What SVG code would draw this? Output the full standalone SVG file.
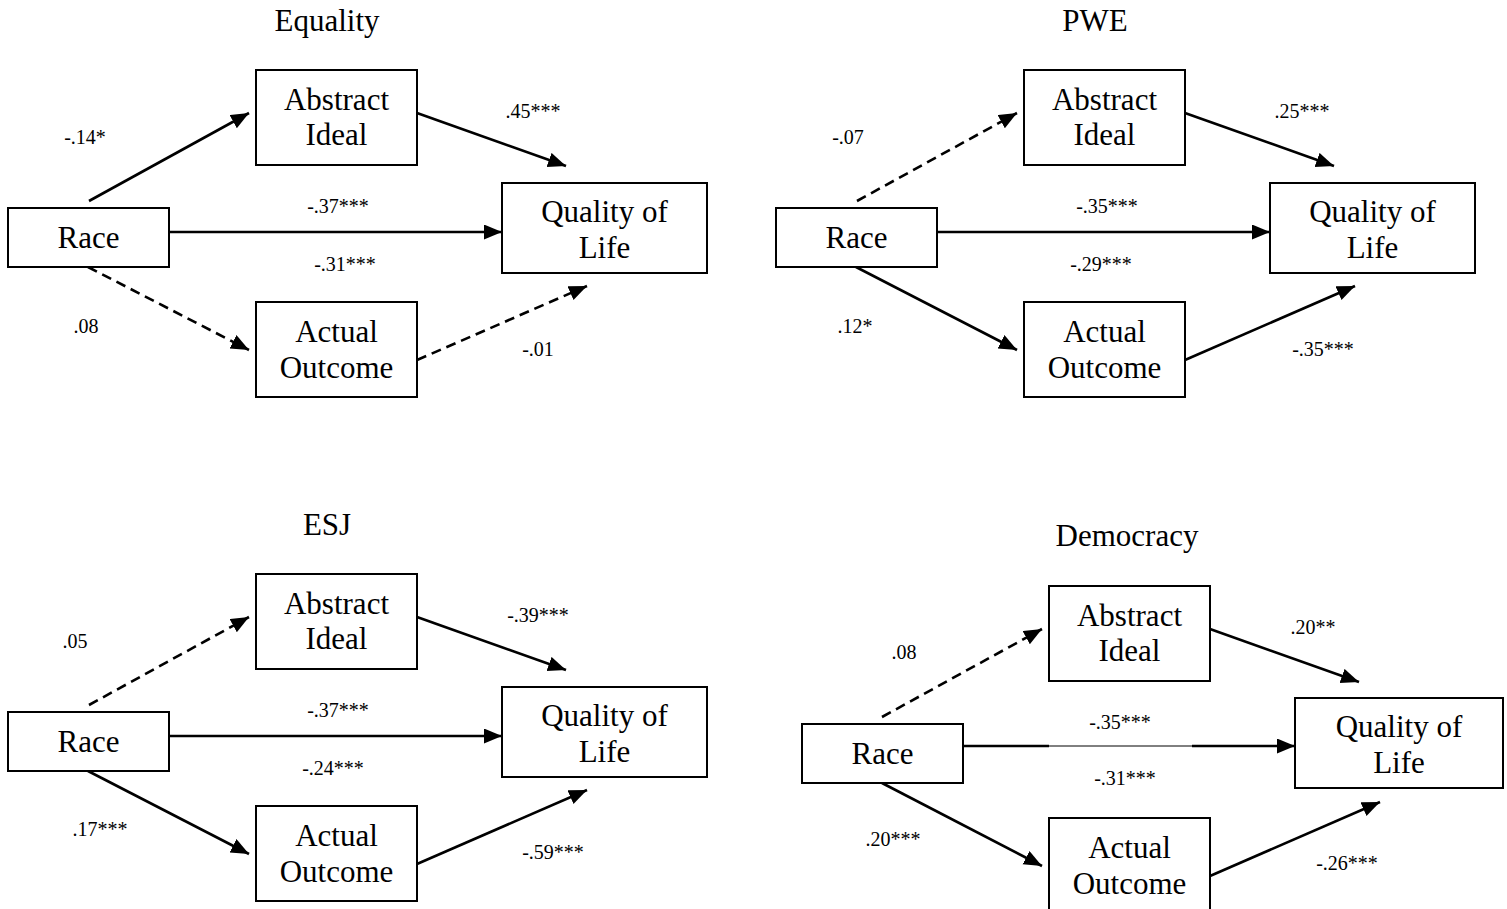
<svg xmlns="http://www.w3.org/2000/svg" width="1507" height="909" viewBox="0 0 1507 909">
<defs>
<marker id="ah" markerUnits="userSpaceOnUse" markerWidth="20" markerHeight="16" refX="18" refY="7.5" orient="auto">
<path d="M0,0 L18,7.5 L0,15 z" fill="#000"/>
</marker>
<style>
.box{fill:#fff;stroke:#000;stroke-width:2}
.bt{font-family:"Liberation Serif","Times New Roman",serif;font-size:31px;text-anchor:middle;fill:#000}
.tt{font-family:"Liberation Serif","Times New Roman",serif;font-size:31px;text-anchor:middle;fill:#000}
.el{font-family:"Liberation Serif","Times New Roman",serif;font-size:20px;text-anchor:middle;fill:#000}
.ln{stroke:#000;stroke-width:2.6;fill:none}
.ar{stroke:#000;stroke-width:2.6;fill:none;marker-end:url(#ah)}
.da{stroke:#000;stroke-width:2.6;fill:none;stroke-dasharray:10 6;marker-end:url(#ah)}
</style>
</defs>
<rect width="1507" height="909" fill="#fff"/>

<g id="titles">
<text class="tt" x="327" y="31">Equality</text>
<text class="tt" x="1095" y="31">PWE</text>
<text class="tt" x="327" y="535">ESJ</text>
<text class="tt" x="1127" y="546">Democracy</text>
</g>

<g id="connectors">
<!-- Equality -->
<line class="ar" x1="89" y1="201" x2="249" y2="113"/>
<line class="ar" x1="417" y1="113" x2="566" y2="166"/>
<line class="ar" x1="169" y1="232" x2="502" y2="232"/>
<line class="da" x1="88" y1="267" x2="249" y2="350"/>
<line class="da" x1="417" y1="360" x2="587" y2="286"/>
<!-- PWE -->
<line class="da" x1="857" y1="201" x2="1017" y2="113"/>
<line class="ar" x1="1185" y1="113" x2="1334" y2="166"/>
<line class="ar" x1="937" y1="232" x2="1270" y2="232"/>
<line class="ar" x1="856" y1="267" x2="1017" y2="350"/>
<line class="ar" x1="1185" y1="360" x2="1355" y2="286"/>
<!-- ESJ -->
<line class="da" x1="89" y1="705" x2="249" y2="617"/>
<line class="ar" x1="417" y1="617" x2="566" y2="670"/>
<line class="ar" x1="169" y1="736" x2="502" y2="736"/>
<line class="ar" x1="88" y1="771" x2="249" y2="854"/>
<line class="ar" x1="417" y1="864" x2="587" y2="790"/>
<!-- Democracy -->
<line class="da" x1="882" y1="717" x2="1042" y2="629"/>
<line class="ar" x1="1210" y1="629" x2="1359" y2="682"/>
<line class="ln" x1="963" y1="746" x2="1049" y2="746"/>
<line stroke="#000" stroke-width="1" x1="1049" y1="746" x2="1192" y2="746"/>
<line class="ar" x1="1192" y1="746" x2="1295" y2="746"/>
<line class="ar" x1="882" y1="783" x2="1042" y2="866"/>
<line class="ar" x1="1210" y1="876" x2="1380" y2="802"/>
</g>

<g id="labels">
<text class="el" x="85" y="144">-.14*</text>
<text class="el" x="533" y="118">.45***</text>
<text class="el" x="338" y="213">-.37***</text>
<text class="el" x="345" y="271">-.31***</text>
<text class="el" x="86" y="333">.08</text>
<text class="el" x="538" y="356">-.01</text>

<text class="el" x="848" y="144">-.07</text>
<text class="el" x="1302" y="118">.25***</text>
<text class="el" x="1107" y="213">-.35***</text>
<text class="el" x="1101" y="271">-.29***</text>
<text class="el" x="855" y="333">.12*</text>
<text class="el" x="1323" y="356">-.35***</text>

<text class="el" x="75" y="648">.05</text>
<text class="el" x="538" y="622">-.39***</text>
<text class="el" x="338" y="717">-.37***</text>
<text class="el" x="333" y="775">-.24***</text>
<text class="el" x="100" y="836">.17***</text>
<text class="el" x="553" y="859">-.59***</text>

<text class="el" x="904" y="659">.08</text>
<text class="el" x="1313" y="634">.20**</text>
<text class="el" x="1120" y="729">-.35***</text>
<text class="el" x="1125" y="785">-.31***</text>
<text class="el" x="893" y="846">.20***</text>
<text class="el" x="1347" y="870">-.26***</text>
</g>

<!-- Equality nodes -->
<g id="eq-abstract"><rect class="box" x="256" y="70" width="161" height="95"/><text class="bt" x="336.5" y="110">Abstract</text><text class="bt" x="336.5" y="145">Ideal</text></g>
<g id="eq-race"><rect class="box" x="8" y="208" width="161" height="59"/><text class="bt" x="88.5" y="248">Race</text></g>
<g id="eq-qol"><rect class="box" x="502" y="183" width="205" height="90"/><text class="bt" x="604.5" y="222">Quality of</text><text class="bt" x="604.5" y="258">Life</text></g>
<g id="eq-actual"><rect class="box" x="256" y="302" width="161" height="95"/><text class="bt" x="336.5" y="342">Actual</text><text class="bt" x="336.5" y="378">Outcome</text></g>

<!-- PWE nodes -->
<g id="pwe-abstract"><rect class="box" x="1024" y="70" width="161" height="95"/><text class="bt" x="1104.5" y="110">Abstract</text><text class="bt" x="1104.5" y="145">Ideal</text></g>
<g id="pwe-race"><rect class="box" x="776" y="208" width="161" height="59"/><text class="bt" x="856.5" y="248">Race</text></g>
<g id="pwe-qol"><rect class="box" x="1270" y="183" width="205" height="90"/><text class="bt" x="1372.5" y="222">Quality of</text><text class="bt" x="1372.5" y="258">Life</text></g>
<g id="pwe-actual"><rect class="box" x="1024" y="302" width="161" height="95"/><text class="bt" x="1104.5" y="342">Actual</text><text class="bt" x="1104.5" y="378">Outcome</text></g>

<!-- ESJ nodes -->
<g id="esj-abstract"><rect class="box" x="256" y="574" width="161" height="95"/><text class="bt" x="336.5" y="614">Abstract</text><text class="bt" x="336.5" y="649">Ideal</text></g>
<g id="esj-race"><rect class="box" x="8" y="712" width="161" height="59"/><text class="bt" x="88.5" y="752">Race</text></g>
<g id="esj-qol"><rect class="box" x="502" y="687" width="205" height="90"/><text class="bt" x="604.5" y="726">Quality of</text><text class="bt" x="604.5" y="762">Life</text></g>
<g id="esj-actual"><rect class="box" x="256" y="806" width="161" height="95"/><text class="bt" x="336.5" y="846">Actual</text><text class="bt" x="336.5" y="882">Outcome</text></g>

<!-- Democracy nodes -->
<g id="dem-abstract"><rect class="box" x="1049" y="586" width="161" height="95"/><text class="bt" x="1129.5" y="626">Abstract</text><text class="bt" x="1129.5" y="661">Ideal</text></g>
<g id="dem-race"><rect class="box" x="802" y="724" width="161" height="59"/><text class="bt" x="882.5" y="764">Race</text></g>
<g id="dem-qol"><rect class="box" x="1295" y="698" width="208" height="90"/><text class="bt" x="1399" y="737">Quality of</text><text class="bt" x="1399" y="773">Life</text></g>
<g id="dem-actual"><rect class="box" x="1049" y="818" width="161" height="95"/><text class="bt" x="1129.5" y="858">Actual</text><text class="bt" x="1129.5" y="894">Outcome</text></g>
</svg>
